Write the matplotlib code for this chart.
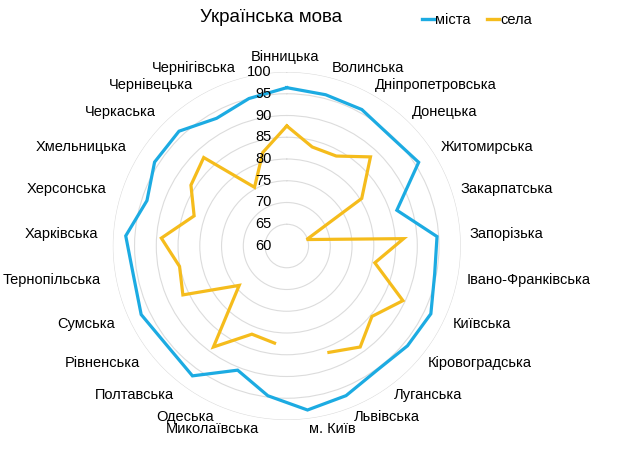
import numpy as np
import matplotlib
matplotlib.use("Agg")
import matplotlib.pyplot as plt
import matplotlib.transforms as mtransforms
from matplotlib.lines import Line2D

plt.rcParams['font.family'] = ['Liberation Sans', 'DejaVu Sans']

title = "Українська мова"
categories = ["Вінницька", "Волинська", "Дніпропетровська", "Донецька", "Житомирська",
              "Закарпатська", "Запорізька", "Івано-Франківська", "Київська", "Кіровоградська",
              "Луганська", "Львівська", "м. Київ", "Миколаївська", "Одеська", "Полтавська",
              "Рівненська", "Сумська", "Тернопільська", "Харківська", "Херсонська",
              "Хмельницька", "Черкаська", "Чернівецька", "Чернігівська"]
series_names = ["міста", "села"]
cities = [96.4, 95.9, 95.8, 94.7, 95.9, 86.6, 94.6, 94.6, 96.6, 96.0, 95.3, 97.0, 98.0,
          94.7, 90.7, 96.9, 95.8, 97.0, 95.9, 97.1, 93.8, 96.0, 96.2, 93.5, 95.0]
villages = [87.6, 83.5, 83.6, 88.1, 80.4, 64.8, 86.9, 80.6, 89.5, 85.4, 88.7, 86.3, np.nan,
            82.5, 81.8, 88.7, 74.2, 86.4, 85.1, 88.9, 82.4, 86.1, 87.9, 75.4, 82.2]
r_ticks = [60, 65, 70, 75, 80, 85, 90, 95, 100]

blue = '#1CABE2'
gold = '#F5BC1C'
grid_c = '#DCDCDC'

W, H = 631, 451
fig = plt.figure(figsize=(W / 100, H / 100), dpi=100)
cx, cy, R = 286.8, 246.0, 174.0
ax = fig.add_axes([(cx - R) / W, (H - cy - R) / H, 2 * R / W, 2 * R / H], projection='polar')
ax.set_theta_zero_location('N')
ax.set_theta_direction(-1)
ax.set_ylim(r_ticks[0], r_ticks[-1])
ax.set_yticks(r_ticks[1:])
ax.set_yticklabels([])
ax.set_xticks([])
ax.yaxis.grid(True, color=grid_c, linewidth=0.8)
ax.xaxis.grid(False)
ax.spines['polar'].set_visible(False)
ax.set_facecolor('none')

n = len(categories)
theta = np.arange(n) * 2 * np.pi / n
th_closed = np.append(theta, theta[0])

ax.plot(th_closed, np.append(cities, cities[0]), color=blue, linewidth=2.3,
        solid_joinstyle='miter', clip_on=False, zorder=3)
ax.plot(th_closed, np.append(villages, villages[0]), color=gold, linewidth=2.3,
        solid_joinstyle='miter', clip_on=False, zorder=3)

# radial tick labels
tick_tr = mtransforms.offset_copy(ax.transData, fig=fig, x=-15, y=0, units='dots')
for v in r_ticks:
    ax.text(0, v, str(v), transform=tick_tr, ha='right', va='center', fontsize=10.5,
            color='#000000', zorder=4)

# category labels
label_r = r_ticks[0] + (r_ticks[-1] - r_ticks[0]) * 184.0 / R
for i, (t, name) in enumerate(zip(theta, categories)):
    deg = np.degrees(t)
    if i == 0:
        tr = mtransforms.offset_copy(ax.transData, fig=fig, x=-2, y=-2, units='dots')
        ax.text(t, label_r, name, transform=tr, ha='center', va='bottom', fontsize=10.5)
    elif deg < 180:
        tr = mtransforms.offset_copy(ax.transData, fig=fig, x=-1, y=0, units='dots')
        ax.text(t, label_r, name, transform=tr, ha='left', va='center', fontsize=10.5)
    else:
        tr = mtransforms.offset_copy(ax.transData, fig=fig, x=-5, y=0, units='dots')
        ax.text(t, label_r, name, transform=tr, ha='right', va='center', fontsize=10.5)

fig.text(271 / W, 1 - 17 / H, title, ha='center', va='center', fontsize=13.5)

handles = [Line2D([0], [0], color=blue, linewidth=2.4),
           Line2D([0], [0], color=gold, linewidth=2.4)]
fig.legend(handles, series_names, loc='center', bbox_to_anchor=(477 / W, 1 - 20 / H),
           ncol=2, frameon=False, fontsize=10.5, handlelength=0.8, handletextpad=0.1,
           columnspacing=1.15, borderpad=0, borderaxespad=0)

fig.savefig('out.png', dpi=100)
